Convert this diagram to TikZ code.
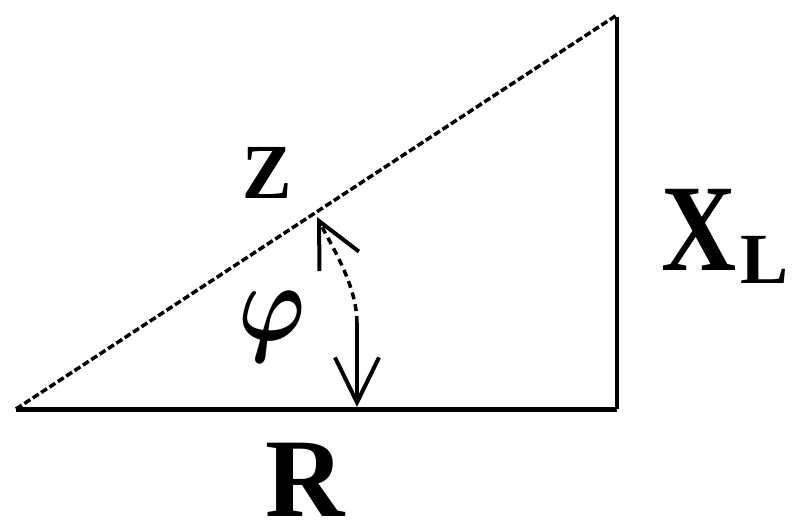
\documentclass[tikz,border=0pt]{standalone}
\usepackage{fontspec}
\setmainfont{Liberation Serif}
\usepackage{amsmath}
\usetikzlibrary{arrows.meta}
\begin{document}
\begin{tikzpicture}[x=1pt,y=-1pt,
  edge/.style={line width=5pt},
  vedge/.style={line width=4pt},
  hyp/.style={line width=3.5pt, dash pattern=on 7pt off 3pt},
  anglearc/.style={line width=3.5pt},
  barb/.style={-{Straight Barb[length=45pt,width=44pt,line width=4pt]}},
  lbl/.style={inner sep=0pt, text depth=0pt}]
\useasboundingbox (0,0) rectangle (796,525);
\coordinate (A) at (16,409);
\coordinate (B) at (617,409);
\coordinate (C) at (617,15);
\coordinate (Bt) at (357,407);
\coordinate (M) at (357,323);
\coordinate (T) at (317,217);
% triangle
\draw[edge] (A) -- (B);
\draw[vedge] (B) -- ([yshift=-2pt]C);
\draw[hyp] (A) -- (C);
% angle arc
\draw[anglearc, barb] (M) -- (Bt);
\draw[anglearc, barb, dash pattern=on 7pt off 5pt] (M) .. controls (357,285) and (331,245) .. (T);
% labels
\node[lbl, font=\fontsize{78}{78}\selectfont\bfseries, xscale=0.95, anchor=base] (Z) at (267,198) {Z};
\node[lbl, font=\fontsize{124}{124}\selectfont\bfseries, xscale=0.84, anchor=base] (X) at (699,270) {X};
\node[lbl, font=\fontsize{72}{72}\selectfont\bfseries, anchor=base west] (L) at (740,283) {L};
\node[lbl, font=\fontsize{112}{112}\selectfont\bfseries, xscale=0.98, anchor=base] (R) at (305,516) {R};
\node[lbl, font=\Huge, xscale=3.62, yscale=4.42, text depth=] (phi) at (272,327) {$\boldsymbol{\varphi}$};
\end{tikzpicture}
\end{document}
